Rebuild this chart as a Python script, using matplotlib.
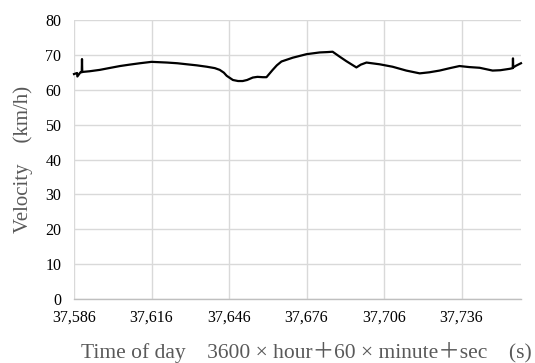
import matplotlib
matplotlib.use("Agg")
import matplotlib.pyplot as plt
from matplotlib.ticker import FuncFormatter

# time of day (s) and velocity (km/h)
time_s = [37586.0, 37587.2, 37587.3, 37588.5, 37589.0, 37589.1, 37589.2, 37592.0,
          37596.0, 37599.5, 37603.8, 37607.5, 37611.5, 37616.0, 37619.0, 37622.0,
          37626.0, 37629.7, 37633.5, 37637.4, 37640.5, 37642.4, 37644.0, 37645.1,
          37647.5, 37649.5, 37651.3, 37653.0, 37655.2, 37657.0, 37659.1, 37660.5,
          37662.9, 37664.5, 37666.3, 37670.7, 37676.0, 37681.1, 37684.0, 37686.1,
          37688.8, 37691.4, 37695.3, 37697.0, 37699.2, 37704.3, 37709.3, 37714.6,
          37719.8, 37723.5, 37727.5, 37731.5, 37735.2, 37739.0, 37743.0, 37748.0,
          37751.0, 37754.6, 37755.8, 37755.9, 37756.0, 37757.1, 37759.0]
velocity = [64.5, 64.8, 63.8, 65.0, 65.0, 68.8, 65.1, 65.3,
            65.7, 66.2, 66.8, 67.2, 67.6, 68.0, 67.9, 67.8,
            67.6, 67.3, 67.0, 66.6, 66.2, 65.7, 64.9, 64.0,
            62.8, 62.5, 62.5, 62.8, 63.5, 63.7, 63.6, 63.6,
            65.7, 67.0, 68.1, 69.2, 70.2, 70.7, 70.8, 70.9,
            69.5, 68.2, 66.4, 67.2, 67.8, 67.3, 66.6, 65.5,
            64.7, 65.0, 65.5, 66.2, 66.8, 66.5, 66.3, 65.5,
            65.6, 66.0, 66.2, 69.0, 66.4, 66.9, 67.6]

x_ticks = [37586, 37616, 37646, 37676, 37706, 37736]
y_ticks = [0, 10, 20, 30, 40, 50, 60, 70, 80]

serif = ['Liberation Serif', 'Noto Sans CJK JP', 'DejaVu Sans']
plt.rcParams['font.family'] = serif

fig = plt.figure(figsize=(5.35, 3.63), dpi=100)
ax = fig.add_axes([0.1383, 0.1763, 0.8355, 0.7686])

ax.plot(time_s, velocity, color='black', linewidth=1.6, clip_on=False)

ax.set_xlim(37586, 37759)
ax.set_ylim(0, 80)
ax.set_xticks(x_ticks)
ax.set_yticks(y_ticks)
ax.xaxis.set_major_formatter(FuncFormatter(lambda v, p: f"{int(v):,}"))

ax.grid(True, color='#d9d9d9', linewidth=1.0)
ax.set_axisbelow(True)
for s in ['top', 'right', 'left']:
    ax.spines[s].set_visible(False)
ax.spines['bottom'].set_color('#bfbfbf')
ax.spines['bottom'].set_linewidth(1.0)
ax.tick_params(length=0, labelsize=11.5, colors='black')
ax.tick_params(axis='y', pad=9)
ax.tick_params(axis='x', pad=8)

ax.text(0.519, -0.19, "Time of day\u30003600 \u00d7 hour\uff0b60 \u00d7 minute\uff0bsec\u3000(s)",
        transform=ax.transAxes, ha='center', va='center', fontsize=15.5, color='#595959')
fig.text(23 / 535, 1 - 159 / 363, "Velocity\u3000(km/h)", rotation=90,
         ha='center', va='center', fontsize=15, color='#595959')

fig.savefig("out.png", dpi=100)
